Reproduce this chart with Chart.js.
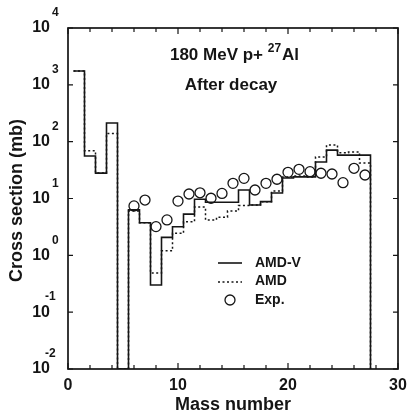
<!DOCTYPE html>
<html>
<head>
<meta charset="utf-8">
<script src="https://cdn.jsdelivr.net/npm/chart.js@4.4.0/dist/chart.umd.min.js"></script>
<style>
  html,body{margin:0;padding:0;background:#fff}
  canvas{display:block}
</style>
</head>
<body>
<canvas id="xsChart" width="414" height="413"></canvas>
<script>
/* ═══════════════════════════════════════
   180 MeV p + 27Al, after decay
═══════════════════════════════════════ */

/* ── data (mb) ── */
const MASS = [1,2,3,4,5,6,7,8,9,10,11,12,13,14,15,16,17,18,19,20,21,22,23,24,25,26,27];
const AMDV = [1750,56,28,213,0,6.3,3.75,0.30,2.07,3.19,5.3,9.7,8.6,8.6,8.6,14.1,7.7,8.8,12.5,23,24,24,44,71,58,58,58];
const AMD  = [1750,69,28,139,0,6.0,3.75,0.49,1.2,2.44,3.9,7.1,4.2,4.7,6.0,7.5,7.7,8.8,13.5,24,25,24,54,87,64,66,42];
const EXP_MASS = [6,7,8,9,10,11,12,13,14,15,16,17,18,19,20,21,22,23,24,25,26,27];
const EXP      = [7.4,9.4,3.2,4.2,9.0,12.0,12.6,10.1,12.3,18.5,22.6,14.1,18.5,21.8,28.9,32.6,29.7,27.8,27.0,19.0,34.0,25.9];

/* ── axes ── */
const X_MIN = 0, X_MAX = 30, X_STEP = 2;
const X_LABELS = [0,10,20,30];
const Y_EXP = [-2,-1,0,1,2,3,4];
const Y_MIN = 0.01, Y_MAX = 10000;

const FONT = '"Liberation Sans", Arial, Helvetica, sans-serif';
const INK = '#151515';

// histogram: each bin's value starts at its left edge, closed down to the floor at the end
function steps(vals) {
  const pts = MASS.map((a,i)=>({ x:a-0.5, y: vals[i] > 0 ? vals[i] : Y_MIN }));
  pts.push({ x: MASS[MASS.length-1]+0.5, y: Y_MIN });
  return pts;
}

/* ── frame, ticks, labels, legend ── */
const decorations = {
  id:'decorations',
  afterDraw(chart) {
    const { ctx, chartArea:a, scales:{x,y} } = chart;
    ctx.save();
    ctx.strokeStyle = INK; ctx.fillStyle = INK;

    ctx.lineWidth = 1.7;
    ctx.strokeRect(a.left, a.top, a.right-a.left, a.bottom-a.top);

    ctx.lineWidth = 1.2;
    ctx.beginPath();
    for (let v = X_MIN; v <= X_MAX; v += X_STEP) {
      const px = x.getPixelForValue(v), len = v%10===0 ? 6 : 4;
      ctx.moveTo(px, a.bottom); ctx.lineTo(px, a.bottom-len);
      ctx.moveTo(px, a.top);    ctx.lineTo(px, a.top+len);
    }
    Y_EXP.forEach(e=>{
      const py = y.getPixelForValue(10**e);
      ctx.moveTo(a.left, py);  ctx.lineTo(a.left+5, py);
      ctx.moveTo(a.right, py); ctx.lineTo(a.right-5, py);
    });
    ctx.stroke();

    // tick labels
    ctx.textBaseline = 'middle';
    ctx.font = `bold 16px ${FONT}`; ctx.textAlign = 'center';
    X_LABELS.forEach(v=>ctx.fillText(String(v), x.getPixelForValue(v), a.bottom+17));
    Y_EXP.forEach(e=>{
      const py = y.getPixelForValue(10**e);
      ctx.font = `bold 16px ${FONT}`; ctx.textAlign = 'right';
      ctx.fillText('10', a.left-18, py);
      ctx.font = `bold 12px ${FONT}`; ctx.textAlign = 'left';
      ctx.fillText(String(e), a.left-(e<0 ? 23 : 16), py-15);
    });

    // axis titles
    const cx = (a.left+a.right)/2;
    ctx.font = `bold 18px ${FONT}`; ctx.textAlign = 'center';
    ctx.fillText('Mass number', cx, a.bottom+36);
    ctx.save();
    ctx.translate(a.left-51, (a.top+a.bottom)/2+2);
    ctx.rotate(-Math.PI/2);
    ctx.fillText('Cross section (mb)', 0, 0);
    ctx.restore();

    // reaction title with superscript mass
    const big = `bold 17px ${FONT}`, sup = `bold 12px ${FONT}`;
    ctx.textAlign = 'left'; ctx.textBaseline = 'alphabetic';
    ctx.font = big; const w1 = ctx.measureText('180 MeV p+ ').width, w3 = ctx.measureText('Al').width;
    ctx.font = sup; const w2 = ctx.measureText('27').width;
    let tx = cx - (w1+w2+w3)/2 + 1;
    ctx.font = big; ctx.fillText('180 MeV p+ ', tx, a.top+32);
    ctx.font = sup; ctx.fillText('27', tx+w1, a.top+24);
    ctx.font = big; ctx.fillText('Al', tx+w1+w2+1, a.top+32);
    ctx.textAlign = 'center'; ctx.textBaseline = 'middle';
    ctx.fillText('After decay', cx-2, a.top+57);

    // legend
    const lx = a.left+150, tx2 = a.left+187;
    ctx.lineWidth = 1.6;
    ctx.beginPath(); ctx.moveTo(lx, 263); ctx.lineTo(lx+24, 263); ctx.stroke();
    ctx.setLineDash([2,2.5]); ctx.lineWidth = 1.5;
    ctx.beginPath(); ctx.moveTo(lx, 282); ctx.lineTo(lx+24, 282); ctx.stroke();
    ctx.setLineDash([]); ctx.lineWidth = 1.3;
    ctx.beginPath(); ctx.arc(lx+12, 300, 5, 0, Math.PI*2); ctx.stroke();
    ctx.font = `bold 14px ${FONT}`; ctx.textAlign = 'left';
    ctx.fillText('AMD-V', tx2, 263);
    ctx.fillText('AMD', tx2, 281);
    ctx.fillText('Exp.', tx2, 300);
    ctx.restore();
  }
};

function buildChart() {
  const ctx = document.getElementById('xsChart').getContext('2d');
  new Chart(ctx, {
    type:'line',
    data:{
      datasets:[
        { label:'AMD-V', data:steps(AMDV), stepped:true, borderColor:INK, borderWidth:1.6, pointRadius:0, fill:false },
        { label:'AMD',   data:steps(AMD),  stepped:true, borderColor:INK, borderWidth:1.5, borderDash:[2,2.5], pointRadius:0, fill:false },
        { label:'Exp.',  data:EXP_MASS.map((a,i)=>({x:a, y:EXP[i]})), showLine:false,
          pointStyle:'circle', pointRadius:5, pointBorderWidth:1.3, pointBorderColor:INK, pointBackgroundColor:'rgba(0,0,0,0)' },
      ]
    },
    options:{
      responsive:false, animation:false, devicePixelRatio:1,
      layout:{ padding:{ left:68, top:28, right:16, bottom:44 } },
      plugins:{ legend:{display:false}, tooltip:{enabled:false} },
      scales:{
        x:{ type:'linear', min:X_MIN, max:X_MAX, display:false },
        y:{ type:'logarithmic', min:Y_MIN, max:Y_MAX, display:false }
      }
    },
    plugins:[decorations]
  });
}

window.addEventListener('DOMContentLoaded', buildChart);
</script>
</body>
</html>
